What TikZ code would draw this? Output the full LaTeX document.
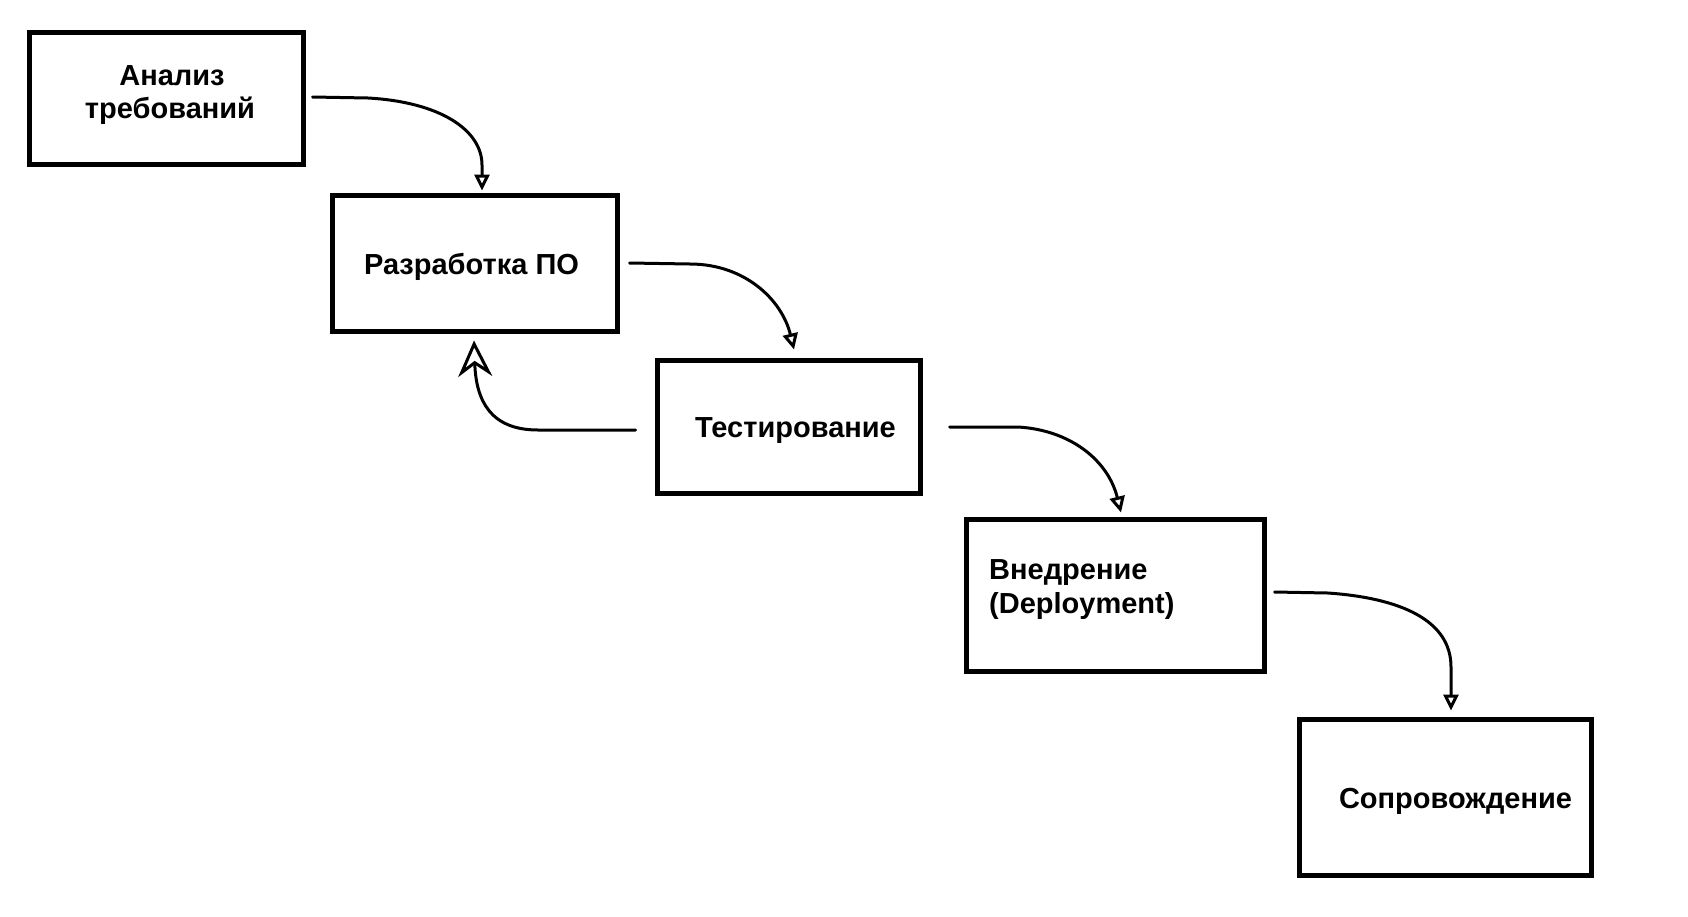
\documentclass[tikz,border=0pt]{standalone}
\usepackage{fontspec}
\setmainfont{Liberation Sans}
\usetikzlibrary{arrows.meta,calc}
\tikzset{
  box/.style={draw=black, line width=5pt, fill=none, inner sep=0pt},
  lbl/.style={inner sep=0pt, font=\fontsize{29}{32}\selectfont\bfseries},
  flow/.style={line width=3pt, line cap=round, line join=round,
    -{Triangle[open, length=16pt, width=15pt, line width=3pt]}},
  back/.style={line width=3pt, line cap=round, line join=round,
    -{Stealth[open, length=36pt, width=34pt, inset=12pt, line width=3pt]}}
}
\begin{document}
\begin{tikzpicture}[x=1pt, y=-1pt]
\useasboundingbox (0,0) rectangle (1688,916);
% boxes
\node[box, minimum width=274pt, minimum height=132pt] (b1) at (166.5,98.5) {};
\node[box, minimum width=285pt, minimum height=136pt] (b2) at (475,263.5) {};
\node[box, minimum width=263pt, minimum height=133pt] (b3) at (789,427) {};
\node[box, minimum width=298pt, minimum height=152pt] (b4) at (1115.5,595.5) {};
\node[box, minimum width=292pt, minimum height=156pt] (b5) at (1445.5,797.5) {};
% texts
\node[lbl, anchor=base] (t1a) at (172,85) {Анализ};
\node[lbl, anchor=base] (t1b) at (170,118) {требований};
\node[lbl, anchor=base] (t2) at (471.5,274) {Разработка ПО};
\node[lbl, anchor=base] (t3) at (795.5,437) {Тестирование};
\node[lbl, anchor=base west] (t4a) at (989,579) {Внедрение};
\node[lbl, anchor=base west] (t4b) at (989,613) {(Deployment)};
\node[lbl, anchor=base] (t5) at (1455.5,808) {Сопровождение};
% connector ends
\coordinate (a1s) at ($(b1.east)+(6.5,-1.5)$);
\coordinate (a1e) at ($(b2.north)+(7,-2.5)$);
\coordinate (a2s) at ($(b2.east)+(9.5,-0.5)$);
\coordinate (a2e) at ($(b3.north)+(5,-8.5)$);
\coordinate (a3s) at ($(b3.east)+(26.5,0)$);
\coordinate (a3e) at ($(b4.north)+(5.5,-4.5)$);
\coordinate (a4s) at ($(b4.east)+(7.5,-3.5)$);
\coordinate (a4e) at ($(b5.north)+(5.5,-6.5)$);
\coordinate (fbs) at ($(b3.west)+(-19.5,3)$);
\coordinate (fbe) at ($(b2.south)+(-1,6.5)$);
% connectors
\draw[flow] (a1s) -- (368,98) .. controls (440,102) and (482,130) .. (482,165) -- (a1e);
\draw[flow] (a2s) -- (690,264) .. controls (745,264) and (782,300) .. (a2e);
\draw[flow] (a3s) -- (1018,427) .. controls (1070,430) and (1108,460) .. (a3e);
\draw[flow] (a4s) -- (1328,593) .. controls (1400,598) and (1451,620) .. (1451,667) -- (a4e);
\draw[back] (fbs) -- (538,430) .. controls (490,430) and (476,400) .. (fbe);
\end{tikzpicture}
\end{document}
